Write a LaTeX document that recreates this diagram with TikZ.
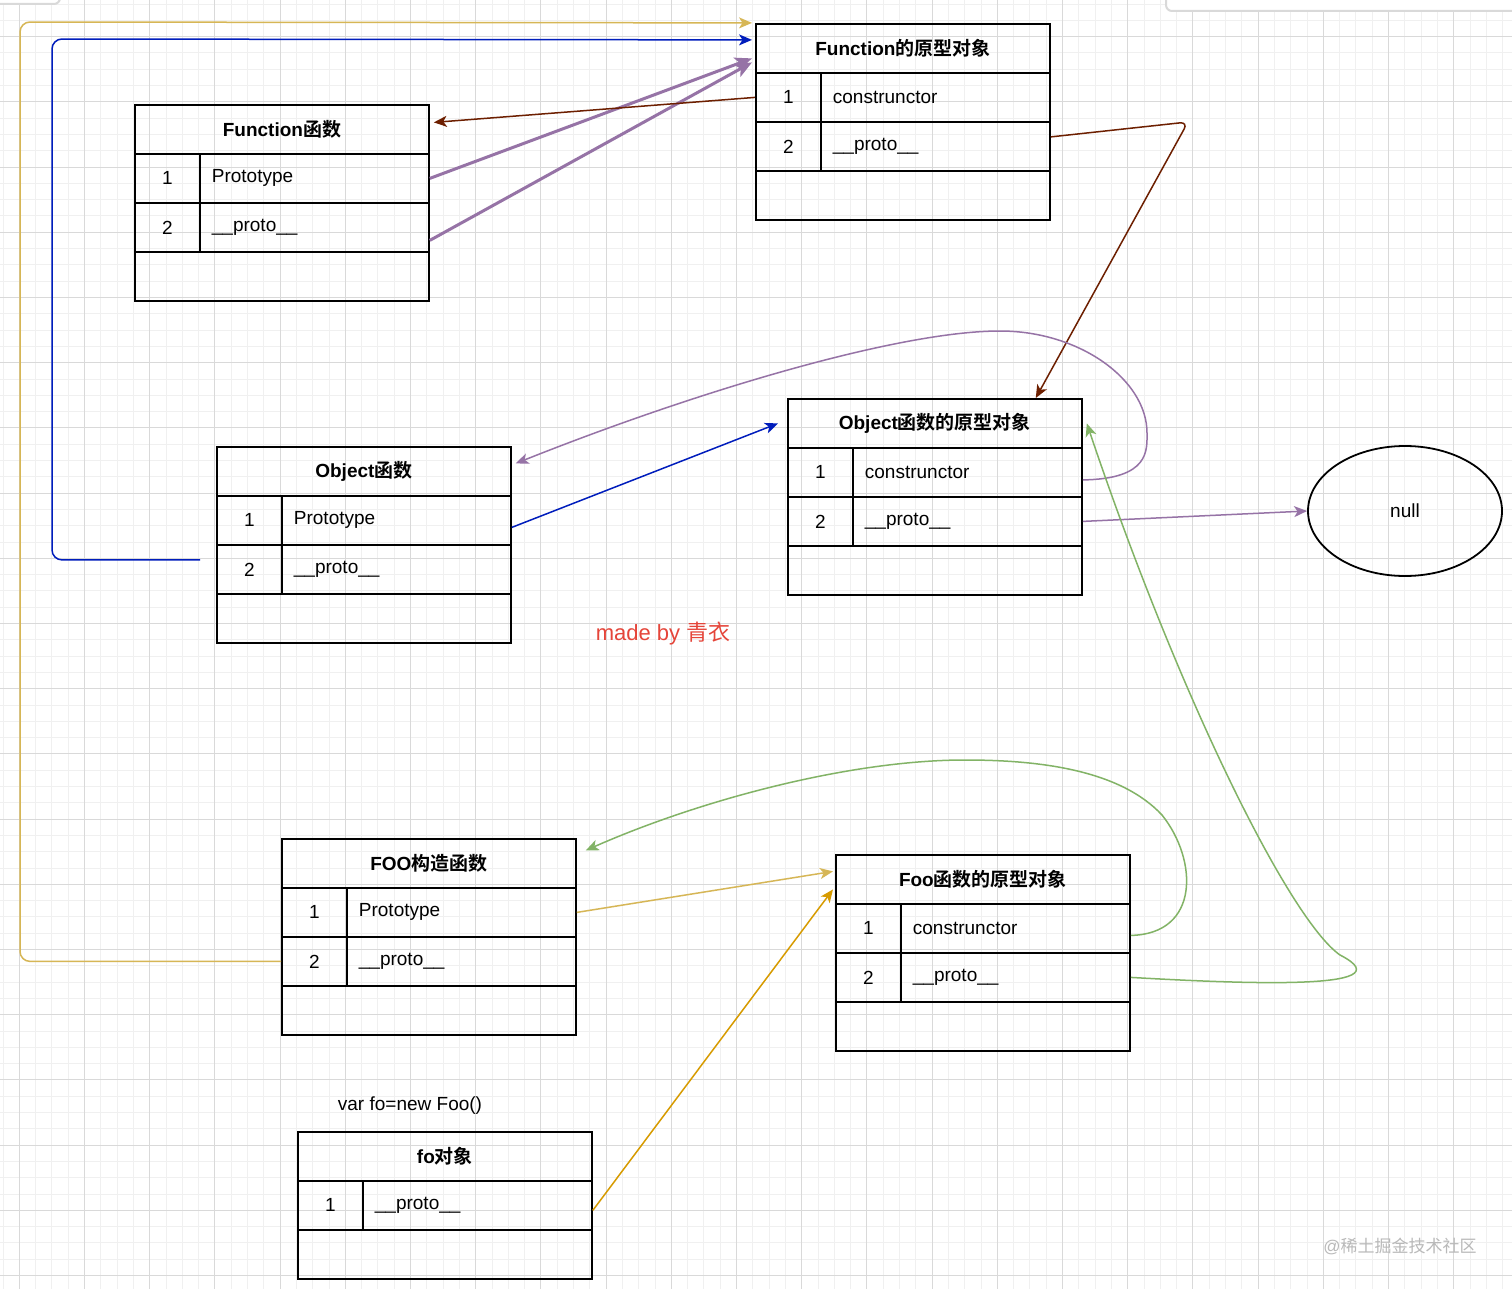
\documentclass[tikz,border=0pt]{standalone}
\usepackage{fontspec}
\setmainfont{Liberation Sans}
\newfontfamily\cjk{Noto Sans CJK SC}[BoldFont={Noto Sans CJK SC Bold}]
\usepackage{tikz}
\usetikzlibrary{
    shapes.geometric,
    arrows.meta,
    positioning,
    calc
}

\definecolor{gridminor}{HTML}{F0F0F0}
\definecolor{gridmajor}{HTML}{D9D9D9}
\definecolor{linkgold}{HTML}{D6B656}
\definecolor{linkorange}{HTML}{D79B00}
\definecolor{linkblue}{HTML}{001DBC}
\definecolor{linkpurple}{HTML}{9673A6}
\definecolor{linkbrown}{HTML}{6D1F00}
\definecolor{linkgreen}{HTML}{82B366}
\definecolor{signred}{HTML}{E5453A}

\newcommand{\zh}[1]{{\cjk #1}}
\newcommand{\basefont}{\fontsize{19}{23}\selectfont}

% name, x, y, title, number of rows, rows
\newcommand{\prototable}[6]{%
    \node[hdr] (#1-h) at (#2,#3) {#4};
    \foreach \k/\txt in {#6} {
        \node[idx] (#1-i\k) at (#2,#3+49*\k) {\k};
        \node[fld] (#1-\k) at (#2+65,#3+49*\k) {\txt};
    }
    \node[emptyrow] (#1-e) at (#2,#3+49*#5+49) {};
}

\begin{document}
\begin{tikzpicture}[
            x=1pt, y=-1pt,
            font=\basefont,
            minorline/.style={draw=gridminor, line width=1pt},
            majorline/.style={draw=gridmajor, line width=1pt},
            cell/.style={draw, line width=1.8pt, anchor=north west, inner sep=0pt, minimum height=49pt},
            hdr/.style={cell, minimum width=294pt, font=\basefont\bfseries},
            idx/.style={cell, minimum width=65pt},
            fld/.style={cell, minimum width=229pt, text width=205pt, inner xsep=12pt, align=left},
            emptyrow/.style={cell, minimum width=294pt},
            endnode/.style={draw, ellipse, line width=1.8pt, minimum width=194pt, minimum height=130pt},
            link/.style={-{Stealth[length=13pt, width=11pt, inset=3.5pt]}, line width=1.5pt},
            thicklink/.style={-{Stealth[length=17pt, width=14pt, inset=4pt]}, line width=3pt},
            gold/.style={link, linkgold},
            orng/.style={link, linkorange},
            blu/.style={link, linkblue},
            purp/.style={link, linkpurple},
            brn/.style={link, linkbrown},
            grn/.style={link, linkgreen}
        ]
            \useasboundingbox (0,0) rectangle (1512,1289);
            \fill[white] (0,0) rectangle (1512,1289);
            \foreach \g in {0,...,92} \draw[minorline] (3.0+16.3*\g,0) -- (3.0+16.3*\g,1289);
            \foreach \g in {0,...,78} \draw[minorline] (0,4.1+16.3*\g) -- (1512,4.1+16.3*\g);
            \foreach \g in {0,...,22} \draw[majorline] (19.3+65.2*\g,0) -- (19.3+65.2*\g,1289);
            \foreach \g in {0,...,19} \draw[majorline] (0,36.7+65.2*\g) -- (1512,36.7+65.2*\g);
            \draw[gray!30, line width=2pt, fill=white, rounded corners=6pt] (-10,-10) rectangle (60,4);
            \draw[gray!30, line width=2pt, fill=white, rounded corners=6pt] (1166,-10) rectangle (1530,11);

            \prototable{fn}{134}{104}{Function\zh{函数}}{2}{1/Prototype, 2/\_\_proto\_\_}
            \prototable{fp}{755}{23}{Function\zh{的原型对象}}{2}{1/construnctor, 2/\_\_proto\_\_}
            \prototable{of}{216}{446}{Object\zh{函数}}{2}{1/Prototype, 2/\_\_proto\_\_}
            \prototable{op}{787}{398}{Object\zh{函数的原型对象}}{2}{1/construnctor, 2/\_\_proto\_\_}
            \prototable{foo}{281}{838}{FOO\zh{构造函数}}{2}{1/Prototype, 2/\_\_proto\_\_}
            \prototable{foop}{835}{854}{Foo\zh{函数的原型对象}}{2}{1/construnctor, 2/\_\_proto\_\_}
            \prototable{fo}{297}{1131}{fo\zh{对象}}{1}{1/\_\_proto\_\_}

            \node[endnode] (null) at (1405,511) {null};
            \node (newfo) at (410,1106) {var fo=new Foo()};
            \node[text=signred, font=\fontsize{22}{26}\selectfont] (sign) at (663,633) {made by \zh{青衣}};
            \node[text=gray!55, font=\fontsize{17}{20}\selectfont] (mark) at (1400,1246) {@\zh{稀土掘金技术社区}};

            \draw[gold, rounded corners=10pt] (foo-i2.west) -| (20,22) -- ([xshift=-3pt, yshift=25.5pt]fp-h.west);
            \draw[blu, rounded corners=10pt] ([xshift=-16pt, yshift=9.5pt]of-i2.west) -| (52,39) -- ([xshift=-3pt, yshift=8.5pt]fp-h.west);
            \draw[thicklink, linkpurple] (fn-1.east) -- ([xshift=-3pt, yshift=-10pt]fp-h.west);
            \draw[thicklink, linkpurple] ([yshift=-13pt]fn-2.east) -- ([xshift=-3pt, yshift=-14pt]fp-h.west);
            \draw[brn] (fp-i1.west) -- ([xshift=4pt, yshift=7pt]fn-h.east);
            \draw[brn, rounded corners=8pt] ([yshift=9.5pt]fp-2.east) -- (1188,122) -- ([xshift=-47pt]op-h.north east);
            \draw[purp] ([yshift=-7.5pt]op-1.east) .. controls (1150,479) and (1147,450) .. (1147,433)
                .. controls (1147,380) and (1080,331) .. (1000,331)
                .. controls (900,331) and (700,390) .. ([xshift=4pt, yshift=8pt]of-h.east);
            \draw[blu] ([yshift=-7pt]of-1.east) -- ([xshift=-9pt]op-h.west);
            \draw[purp] (op-2.east) -- (null.west);
            \draw[grn] ([yshift=-7pt]foop-1.east) .. controls (1200,934) and (1198,860) .. (1162,815)
                .. controls (1120,770) and (1040,760) .. (965,760)
                .. controls (850,760) and (700,800) .. ([xshift=9pt, yshift=13pt]foo-h.east);
            \draw[grn] (foop-2.east) .. controls (1230,983) and (1412,992) .. (1340,955)
                .. controls (1290,920) and (1180,700) .. ([xshift=4pt]op-h.east);
            \draw[gold] (foo-1.east) -- ([xshift=-2pt, yshift=8pt]foop-h.west);
            \draw[orng] ([yshift=-5pt]fo-1.east) -- ([xshift=-2pt, yshift=-10pt]foop-h.west);
\end{tikzpicture}
\end{document}
